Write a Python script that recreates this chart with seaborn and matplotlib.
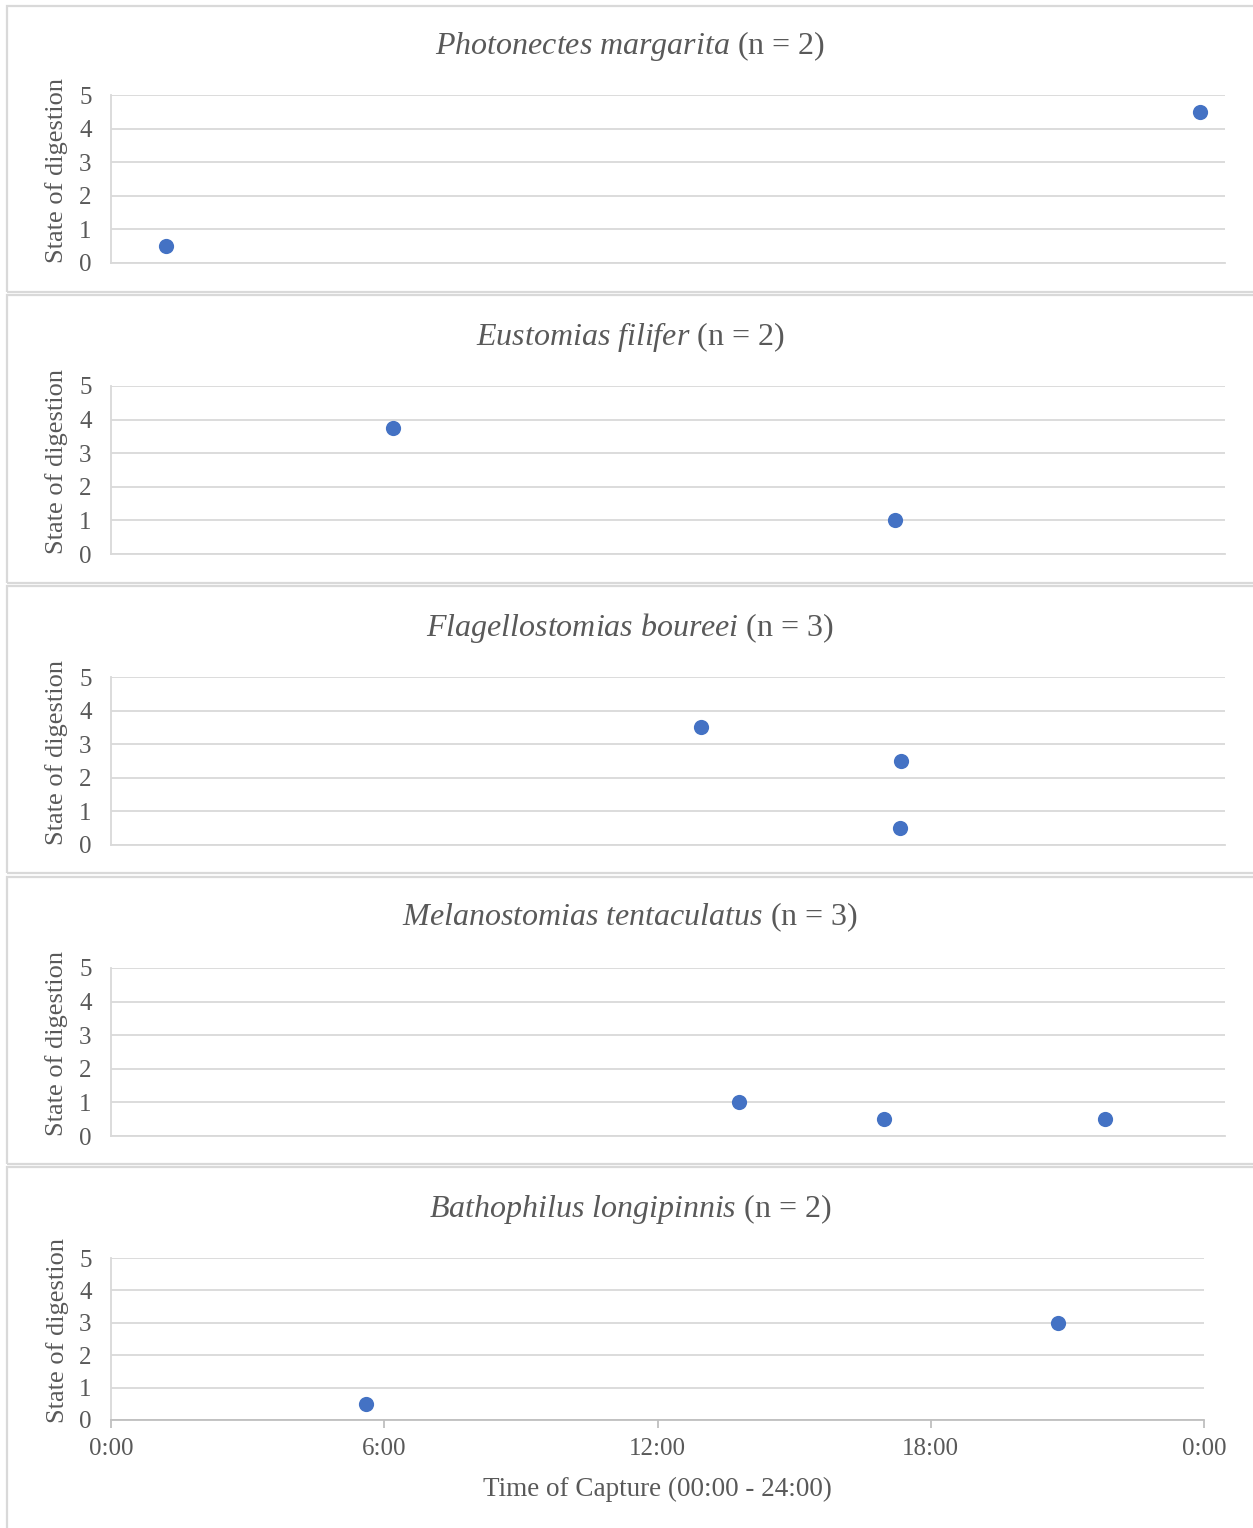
import pandas as pd
import seaborn as sns
import matplotlib.pyplot as plt
from matplotlib.patches import Rectangle

# Data (time of capture in hours, 0-24)
species = [
    "Photonectes margarita",
    "Eustomias filifer",
    "Flagellostomias boureei",
    "Melanostomias tentaculatus",
    "Bathophilus longipinnis",
]
capture_hours = [
    [1.18, 23.46],
    [6.08, 16.89],
    [12.71, 17.02, 17.00],
    [13.53, 16.65, 21.41],
    [5.60, 20.79],
]
digestion_state = [
    [0.5, 4.5],
    [3.75, 1.0],
    [3.5, 2.5, 0.5],
    [1.0, 0.5, 0.5],
    [0.5, 3.0],
]
x_ticks = [0, 6, 12, 18, 24]
x_tick_labels = ["0:00", "6:00", "12:00", "18:00", "0:00"]
y_ticks = [0, 1, 2, 3, 4, 5]

TEXT = "#595959"
GRID = "#D9D9D9"
BLUE = "#4472C4"

sns.set_style("white")
plt.rcParams["font.family"] = ["Liberation Serif", "DejaVu Serif"]
plt.rcParams["mathtext.fontset"] = "custom"
plt.rcParams["mathtext.rm"] = "Liberation Serif"
plt.rcParams["mathtext.it"] = "Liberation Serif:italic"

fig = plt.figure(figsize=(12.53, 15.28), dpi=100)

# panel boxes (bottom, top) in figure fraction
boxes = [(0.8089, 0.9961), (0.6185, 0.8069), (0.4287, 0.6165),
         (0.2382, 0.4260), (-0.02, 0.2363)]
# axes (bottom, top)
axes_pos = [(0.8279, 0.9378), (0.6374, 0.7474), (0.4470, 0.5569),
            (0.2565, 0.3665), (0.0707, 0.1767)]
title_y = [0.9700, 0.7796, 0.5892, 0.3994, 0.2089]

for i, name in enumerate(species):
    b0, b1 = boxes[i]
    fig.patches.append(Rectangle((0.0056, b0), 1.05, b1 - b0, transform=fig.transFigure,
                                 facecolor="none", edgecolor=GRID, linewidth=1.6))

    a0, a1 = axes_pos[i]
    last = i == len(species) - 1
    right = 0.9609 if last else 0.9777
    ax = fig.add_axes([0.0886, a0, right - 0.0886, a1 - a0])

    df = pd.DataFrame({"hour": capture_hours[i], "state": digestion_state[i]})
    sns.scatterplot(data=df, x="hour", y="state", ax=ax, color=BLUE, s=120,
                    linewidth=0, zorder=3, clip_on=False)

    ax.set_xlim(0, 24)
    ax.set_ylim(0, 5)
    ax.set_yticks(y_ticks)
    ax.yaxis.grid(True, color=GRID, linewidth=1.3)
    ax.set_axisbelow(True)
    for side in ["top", "right"]:
        ax.spines[side].set_visible(False)
    ax.spines["left"].set_color(GRID)
    ax.spines["left"].set_linewidth(1.3)
    ax.spines["bottom"].set_color("#BFBFBF" if last else GRID)
    ax.spines["bottom"].set_linewidth(1.3)
    ax.tick_params(axis="y", length=0, labelsize=18, labelcolor=TEXT, pad=14)
    ax.set_ylabel("State of digestion", fontsize=19, color=TEXT)
    ax.yaxis.set_label_coords(-0.0385, 0.553)

    if last:
        ax.set_xticks(x_ticks)
        ax.set_xticklabels(x_tick_labels)
        ax.tick_params(axis="x", direction="out", length=6, width=1.3, color="#BFBFBF",
                       labelsize=18, labelcolor=TEXT, pad=7, bottom=True)
        ax.set_xlabel("Time of Capture (00:00 - 24:00)", fontsize=19.5, color=TEXT,
                      labelpad=12)
    else:
        ax.set_xticks([])
        ax.set_xlabel("")

    label = r"$\mathit{" + name.replace(" ", r"\ ") + "}$" + f" (n = {len(capture_hours[i])})"
    fig.text(0.503, title_y[i], label, ha="center", va="center", fontsize=23, color=TEXT)

fig.savefig("out.png", dpi=100)
